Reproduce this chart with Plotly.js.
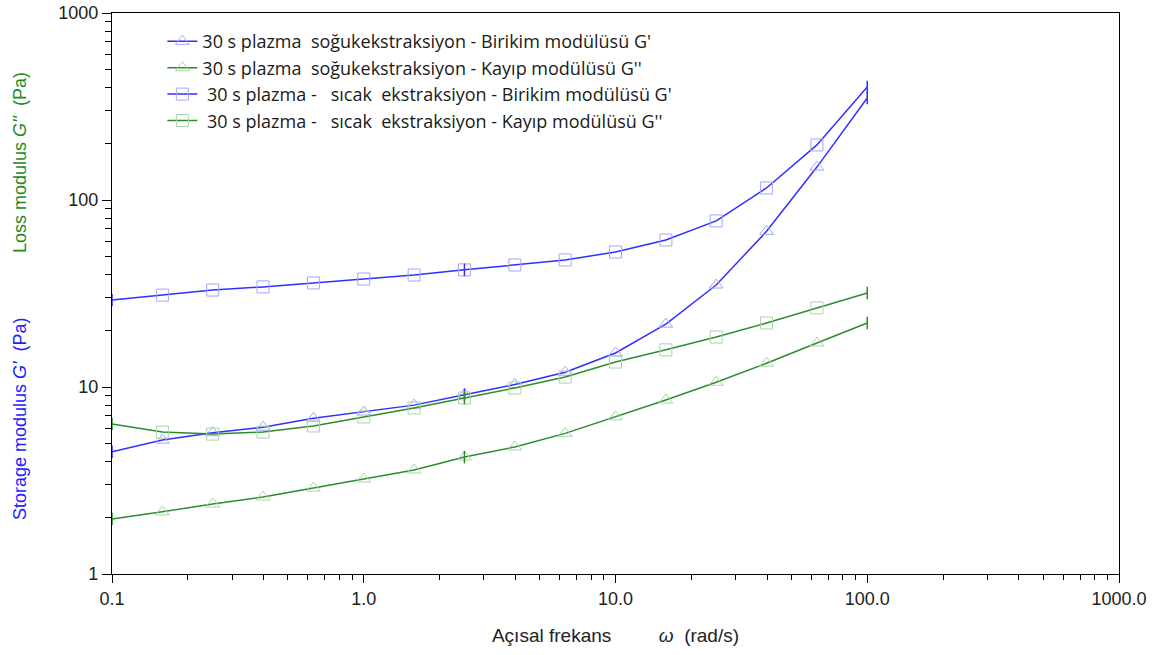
<!DOCTYPE html>
<html>
<head>
<meta charset="utf-8">
<script src="https://cdn.plot.ly/plotly-3.0.1.min.js"></script>
<style>html,body{margin:0;padding:0;background:#fff;}#chart{width:1163px;height:655px;}</style>
</head>
<body>
<div id="chart"></div>
<script>
// Angular frequency (rad/s)
const freq = [0.1, 0.1585, 0.2512, 0.3981, 0.631, 1, 1.585, 2.512, 3.981, 6.31, 10, 15.85, 25.12, 39.81, 63.1, 100];
// 30 s plazma – soğuk ekstraksiyon
const coldStorage = [4.5, 5.2, 5.7, 6.1, 6.8, 7.35, 8.0, 9.1, 10.3, 12.0, 15.2, 21.7, 35.1, 68, 150, 351];
const coldLoss = [1.97, 2.15, 2.37, 2.58, 2.88, 3.22, 3.6, 4.22, 4.78, 5.65, 6.92, 8.52, 10.6, 13.4, 17.2, 22.0];
// 30 s plazma – sıcak ekstraksiyon
const hotStorage = [29.2, 31.0, 33.0, 34.3, 36.0, 37.8, 39.7, 42.3, 44.9, 47.8, 52.7, 61.1, 77.3, 116, 197, 402];
const hotLoss = [6.34, 5.74, 5.6, 5.74, 6.19, 6.91, 7.72, 8.73, 9.88, 11.3, 13.6, 15.8, 18.5, 22.0, 26.5, 31.8];

const seriesNames = [
  "30 s plazma\u00a0 soğukekstraksiyon - Birikim modülüsü G'",
  "30 s plazma\u00a0 soğukekstraksiyon - Kayıp modülüsü G''",
  "\u00a030 s plazma -\u00a0\u00a0 sıcak\u00a0 ekstraksiyon - Birikim modülüsü G'",
  "\u00a030 s plazma -\u00a0\u00a0 sıcak\u00a0 ekstraksiyon - Kayıp modülüsü G''"
];
const xTickVals = [0.1, 1, 10, 100, 1000];
const xTickText = ["0.1", "1.0", "10.0", "100.0", "1000.0"];
const yTickVals = [1, 10, 100, 1000];
const yTickText = ["1", "10", "100", "1000"];
const crossIdx = [0, 7, 15];

const BLUE = '#2f2fff', GREEN = '#2e8b2e';
const PALE_BLUE = '#a5a5ff', PALE_GREEN = '#a8d4a8';

const series = [
  {y: coldStorage, line: BLUE, pale: PALE_BLUE, sym: 'triangle-up-open'},
  {y: coldLoss, line: GREEN, pale: PALE_GREEN, sym: 'triangle-up-open'},
  {y: hotStorage, line: BLUE, pale: PALE_BLUE, sym: 'square-open'},
  {y: hotLoss, line: GREEN, pale: PALE_GREEN, sym: 'square-open'}
];

const traces = [];
const inner = freq.map((f, k) => k).filter(k => k > 0 && k < freq.length - 1);
series.forEach((s, i) => {
  // connecting line
  traces.push({
    x: freq, y: s.y, type: 'scatter', mode: 'lines',
    line: {color: s.line, width: 1.5}, showlegend: false, hoverinfo: 'skip'
  });
  // pale open markers at measured points
  traces.push({
    x: inner.map(k => freq[k]), y: inner.map(k => s.y[k]), type: 'scatter', mode: 'markers',
    marker: {symbol: s.sym, color: s.pale, size: 12, line: {width: 1}},
    showlegend: false
  });
  // tick crosses
  traces.push({
    x: crossIdx.map(k => freq[k]), y: crossIdx.map(k => s.y[k]), type: 'scatter', mode: 'markers',
    marker: {symbol: 'line-ns-open', color: s.line, size: 9, line: {width: 1.5, color: s.line}},
    showlegend: false, hoverinfo: 'skip'
  });
  // legend entry
  traces.push({
    x: [null], y: [null], type: 'scatter', mode: 'lines+markers', name: seriesNames[i],
    line: {color: s.line, width: 1.5},
    marker: {symbol: s.sym, color: s.pale, size: 12, line: {width: 1}},
    showlegend: true
  });
});

const minorVals = [];
[0.1, 1, 10, 100].forEach(d => { for (let m = 2; m <= 9; m++) minorVals.push(d * m); });
const minorY = [];
[1, 10, 100].forEach(d => { for (let m = 2; m <= 9; m++) minorY.push(d * m); });

const axisFont = {family: 'Liberation Sans, Arial, sans-serif', size: 18, color: '#222'};

const layout = {
  width: 1163, height: 655,
  margin: {l: 112, r: 44, t: 13, b: 81},
  paper_bgcolor: '#fff', plot_bgcolor: '#fff',
  showlegend: true,
  legend: {
    x: 0.05, y: 0.982, xanchor: 'left', yanchor: 'top',
    bgcolor: 'rgba(0,0,0,0)', borderwidth: 0,
    font: {family: 'Open Sans, sans-serif', size: 18, color: '#1a1a1a'},
    itemwidth: 30, tracegroupgap: 0
  },
  xaxis: {
    type: 'log', range: [-1, 3],
    tickmode: 'array', tickvals: xTickVals, ticktext: xTickText,
    ticks: 'outside', ticklen: 8, tickwidth: 1, tickcolor: '#000',
    showline: true, linecolor: '#000', linewidth: 1.2, mirror: true,
    showgrid: false, zeroline: false,
    tickfont: axisFont,
    minor: {tickmode: 'array', tickvals: minorVals, ticks: 'outside', ticklen: 5, tickcolor: '#000', showgrid: false},
    title: {text: 'Açısal frekans\u00a0\u00a0\u00a0\u00a0\u00a0\u00a0\u00a0\u00a0 <i>ω</i>\u00a0 (rad/s)', font: {family: 'Liberation Sans, Arial, sans-serif', size: 19, color: '#222'}, standoff: 21}
  },
  yaxis: {
    type: 'log', range: [0, 3],
    tickmode: 'array', tickvals: yTickVals, ticktext: yTickText,
    ticks: 'outside', ticklen: 9, tickwidth: 1, tickcolor: '#000',
    showline: true, linecolor: '#000', linewidth: 1.2, mirror: true,
    showgrid: false, zeroline: false,
    tickfont: axisFont,
    minor: {tickmode: 'array', tickvals: minorY, ticks: 'outside', ticklen: 6, tickcolor: '#000', showgrid: false}
  },
  annotations: [
    {xref: 'paper', yref: 'paper', x: (20 - 112) / 1007, y: (574 - 419) / 561, xanchor: 'center', yanchor: 'middle',
     textangle: -90, showarrow: false,
     text: "Storage modulus <i>G'</i>\u00a0 (Pa)", font: {family: 'Liberation Sans, Arial, sans-serif', size: 18, color: '#2222ff'}},
    {xref: 'paper', yref: 'paper', x: (20 - 112) / 1007, y: (574 - 163) / 561, xanchor: 'center', yanchor: 'middle',
     textangle: -90, showarrow: false,
     text: "Loss modulus <i>G''</i>\u00a0 (Pa)", font: {family: 'Liberation Sans, Arial, sans-serif', size: 18, color: '#1f8a1f'}}
  ]
};

Plotly.newPlot('chart', traces, layout, {displayModeBar: false, staticPlot: true});
</script>
</body>
</html>
